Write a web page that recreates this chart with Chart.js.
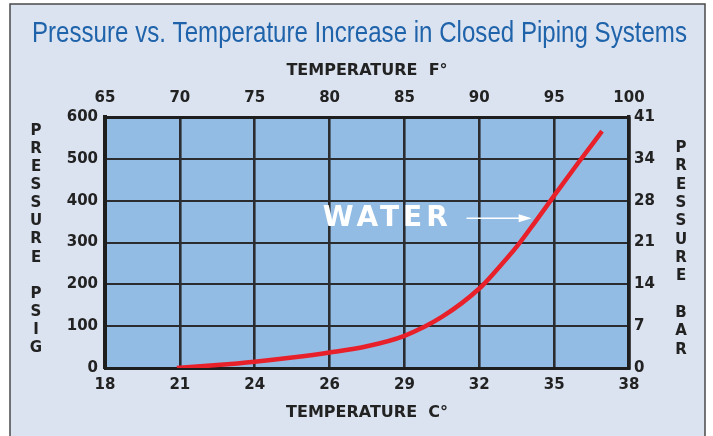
<!DOCTYPE html>
<html><head><meta charset="utf-8">
<script src="https://cdn.jsdelivr.net/npm/chart.js@4/dist/chart.umd.min.js"></script>
<style>html,body{margin:0;padding:0;background:#fff}#wrap{width:713px;height:436px;position:relative}</style>
</head><body><div id="wrap"><canvas id="c" width="713" height="436"></canvas></div>
<script>
// ---- data ----
const tempF = [69.8, 72.5, 75, 77.5, 80, 82.5, 85, 87.5, 90, 91.25, 92.5, 93.75, 95, 96.6, 98.2];
const waterPsig = [0, 7, 15, 25, 37, 52, 77, 122, 190, 238, 290, 350, 412, 490, 566];
const topTickLabelsF = ['65', '70', '75', '80', '85', '90', '95', '100'];
const bottomTickLabelsC = ['18', '21', '24', '26', '29', '32', '35', '38'];
const leftTickLabelsPsig = ['0', '100', '200', '300', '400', '500', '600'];
const rightTickLabelsBar = ['0', '7', '14', '21', '28', '34', '41'];
const chartTitle = 'Pressure vs. Temperature Increase in Closed Piping Systems';
const topAxisTitle = 'TEMPERATURE  F°';
const bottomAxisTitle = 'TEMPERATURE  C°';
const leftAxisLetters = 'PRESSURE PSIG';
const rightAxisLetters = 'PRESSURE BAR';
const seriesName = 'WATER';

const BOLD = 'DejaVu Sans';
const tickFont = {family: BOLD, size: 15, weight: 'bold'};
const ink = '#222222';

const decor = {
  id: 'decor',
  beforeDraw(chart) {
    const {ctx, chartArea: a} = chart;
    ctx.save();
    ctx.fillStyle = '#ffffff';
    ctx.fillRect(0, 0, chart.width, chart.height);
    ctx.fillStyle = '#dbe3f0';
    ctx.fillRect(10, 4, 695, 440);
    ctx.strokeStyle = '#4a4a4a';
    ctx.lineWidth = 1.5;
    ctx.beginPath();
    ctx.moveTo(10, 440); ctx.lineTo(10, 4); ctx.lineTo(705, 4); ctx.lineTo(705, 440);
    ctx.stroke();
    ctx.fillStyle = '#93bce4';
    ctx.fillRect(a.left, a.top, a.right - a.left, a.bottom - a.top);
    ctx.restore();
  },
  afterDatasetsDraw(chart) {
    const {ctx} = chart;
    const xs = chart.scales.x, ys = chart.scales.y;
    ctx.save();
    ctx.fillStyle = '#ffffff';
    ctx.font = 'bold 28px "DejaVu Sans"';
    ctx.letterSpacing = '4px';
    ctx.textAlign = 'left';
    ctx.textBaseline = 'middle';
    ctx.fillText(seriesName, xs.getPixelForValue(79.55), ys.getPixelForValue(357));
    ctx.letterSpacing = '0px';
    const ax0 = xs.getPixelForValue(89.15), ax1 = xs.getPixelForValue(93.5), ay = ys.getPixelForValue(358);
    ctx.strokeStyle = '#ffffff';
    ctx.lineWidth = 1.6;
    ctx.beginPath(); ctx.moveTo(ax0, ay); ctx.lineTo(ax1 - 10, ay); ctx.stroke();
    ctx.beginPath();
    ctx.moveTo(ax1, ay); ctx.lineTo(ax1 - 13, ay - 4); ctx.lineTo(ax1 - 13, ay + 4); ctx.closePath();
    ctx.fill();
    ctx.restore();
  },
  afterDraw(chart) {
    const {ctx} = chart;
    ctx.save();
    ctx.fillStyle = '#1f63ab';
    ctx.font = '29px "Liberation Sans"';
    ctx.textAlign = 'center';
    ctx.textBaseline = 'middle';
    ctx.fillText(chartTitle, 359.5, 34, 655);
    ctx.fillStyle = ink;
    ctx.font = 'bold 15px "DejaVu Sans"';
    [...leftAxisLetters].forEach((ch, i) => { if (ch !== ' ') ctx.fillText(ch, 36, 131 + i * 18.1); });
    [...rightAxisLetters].forEach((ch, i) => { if (ch !== ' ') ctx.fillText(ch, 681, 148 + i * 18.35); });
    ctx.restore();
  }
};

const ticksFromArray = (arr) => (scale) => { scale.ticks = arr.map(v => ({value: +v})); };

new Chart(document.getElementById('c'), {
  type: 'line',
  data: {
    datasets: [{
      label: seriesName,
      data: tempF.map((f, i) => ({x: f, y: waterPsig[i]})),
      borderColor: '#e8202a',
      borderWidth: 4.5,
      pointRadius: 0,
      cubicInterpolationMode: 'monotone',
      borderCapStyle: 'butt',
      fill: false
    }]
  },
  options: {
    responsive: false,
    animation: false,
    layout: {padding: 0},
    plugins: {legend: {display: false}, tooltip: {enabled: false}, title: {display: false}},
    scales: {
      x: {
        type: 'linear', position: 'bottom', min: 65, max: 100,
        afterBuildTicks: ticksFromArray(topTickLabelsF),
        afterFit(s) { s.height = 68; },
        ticks: {font: tickFont, color: ink, padding: 8, maxRotation: 0, autoSkip: false,
                callback: (v, i) => bottomTickLabelsC[i]},
        grid: {color: '#2a2c30', lineWidth: 2.6, drawTicks: false},
        border: {display: true, color: '#1e1e1e', width: 3},
        title: {display: true, text: bottomAxisTitle, font: {family: BOLD, size: 16, weight: 'bold'}, color: ink, padding: {top: 0, bottom: 14}}
      },
      x2: {
        type: 'linear', position: 'top', min: 65, max: 100,
        afterBuildTicks: ticksFromArray(topTickLabelsF),
        afterFit(s) { s.height = 117; },
        ticks: {font: tickFont, color: ink, padding: 10, maxRotation: 0, autoSkip: false,
                callback: (v, i) => topTickLabelsF[i]},
        grid: {display: false, drawTicks: false},
        border: {display: true, color: '#1e1e1e', width: 3},
        title: {display: true, text: topAxisTitle, font: {family: BOLD, size: 16, weight: 'bold'}, color: ink, padding: {top: 61, bottom: 0}}
      },
      y: {
        type: 'linear', position: 'left', min: 0, max: 600,
        afterBuildTicks: ticksFromArray(leftTickLabelsPsig),
        afterFit(s) { s.width = 105; },
        ticks: {font: tickFont, color: ink, padding: 7, callback: (v, i) => leftTickLabelsPsig[i]},
        grid: {color: '#2a2c30', lineWidth: 2, drawTicks: false},
        border: {display: true, color: '#1e1e1e', width: 4}
      },
      y2: {
        type: 'linear', position: 'right', min: 0, max: 600,
        afterBuildTicks: ticksFromArray(leftTickLabelsPsig),
        afterFit(s) { s.width = 84; },
        ticks: {font: tickFont, color: ink, padding: 5, callback: (v, i) => rightTickLabelsBar[i]},
        grid: {display: false, drawTicks: false},
        border: {display: true, color: '#1e1e1e', width: 3.5}
      }
    }
  },
  plugins: [decor]
});
</script>
</body></html>
